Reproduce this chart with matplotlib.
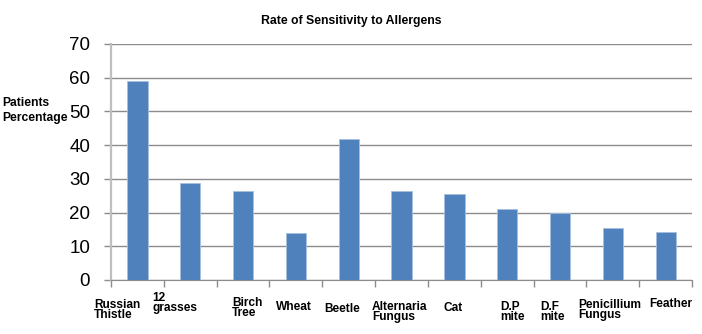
import matplotlib.pyplot as plt
import numpy as np

categories = ["Russian\nThistle", "12\ngrasses", "Birch\nTree", "Wheat", "Beetle",
              "Alternaria\nFungus", "Cat", "D.P\nmite", "D.F\nmite",
              "Penicillium\nFungus", "Feather"]
values = [59.0, 28.7, 26.5, 14.0, 41.9, 26.5, 25.4, 21.0, 20.0, 15.3, 14.1]
y_ticks = [0, 10, 20, 30, 40, 50, 60, 70]

# label placement quirks (offset from category centre in data units, y in points below axis)
label_dx = [-0.82, -0.72, -0.21, -0.375, -0.466, -0.557, -0.21, -0.13, -0.375, -0.655, -0.31]
label_dy = [-13.9, -8.4, -12.0, -14.9, -16.8, -14.9, -15.6, -14.9, -14.9, -13.9, -13.2]

plt.rcParams['font.family'] = ['Liberation Sans', 'DejaVu Sans']

fig = plt.figure(figsize=(7.02, 3.34), dpi=100)
ax = fig.add_axes([0.158, 0.1617, 0.828, 0.7066])

x = np.arange(len(categories))
ax.bar(x, values, width=0.385, color='#4F81BD', edgecolor='#A7C0E0', linewidth=0.6, zorder=3)

ax.set_xlim(-0.5, len(categories) - 0.5)
ax.set_ylim(0, 70)
ax.set_yticks(y_ticks)
ax.set_yticklabels([str(t) for t in y_ticks], fontsize=13.5)
ax.yaxis.grid(True, color='#8c8c8c', linewidth=1.0, zorder=0)
ax.tick_params(axis='y', length=5, width=1.0, color='#8c8c8c', pad=10)

ax.set_xticks(np.arange(len(categories) + 1) - 0.5)
ax.set_xticklabels([])
ax.tick_params(axis='x', length=5, width=1.0, color='#8c8c8c')

for s in ['top', 'right']:
    ax.spines[s].set_visible(False)
ax.spines['left'].set_color('#bfbfbf')
ax.spines['left'].set_linewidth(1.6)
ax.spines['bottom'].set_color('#8c8c8c')

for i, lab in enumerate(categories):
    ax.annotate(lab, xy=(x[i] + label_dx[i], 0), xycoords='data',
                xytext=(0, label_dy[i]), textcoords='offset points',
                ha='left', va='top', fontsize=8.6, fontweight='bold',
                linespacing=0.8, annotation_clip=False)

fig.text(0.5, 0.937, "Rate of Sensitivity to Allergens", ha='center', va='center',
         fontsize=8.8, fontweight='bold')
fig.text(0.003, 0.67, "Patients\nPercentage", ha='left', va='center',
         fontsize=8.7, fontweight='bold', linespacing=1.35)

fig.savefig('out.png', dpi=100)
